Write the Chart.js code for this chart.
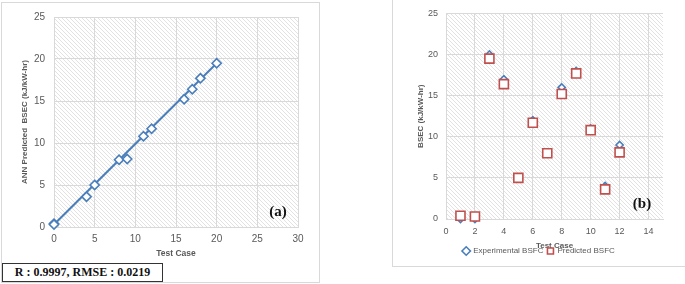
<!DOCTYPE html>
<html>
<head>
<meta charset="utf-8">
<script src="https://cdn.jsdelivr.net/npm/chart.js@4"></script>
<style>
  html, body { margin: 0; padding: 0; background: #fff; }
  body { width: 685px; height: 284px; position: relative; overflow: hidden; }
  .frame { position: absolute; border: 1px solid #d9d9d9; box-sizing: border-box; }
  #wrapA { position: absolute; left: 0; top: 0; width: 320px; height: 262px; }
  #wrapB { position: absolute; left: 393px; top: 0; width: 292px; height: 266px; }
  #stats {
    position: absolute; left: 2px; top: 263px; width: 161px; height: 19px;
    border: 1.5px solid #333; box-sizing: border-box; background: #fff;
    font: bold 12px "Liberation Serif", serif; color: #111;
    line-height: 16px; text-align: center;
  }
</style>
</head>
<body>
<div class="frame" style="left:1px;top:2px;width:319px;height:281px;"></div>
<div class="frame" style="left:392px;top:-1px;width:296px;height:268px;"></div>
<div id="wrapA"><canvas id="ch_a"></canvas></div>
<div id="wrapB"><canvas id="ch_b"></canvas></div>
<div id="stats">R : 0.9997, RMSE : 0.0219</div>

<script>
// data
const testCase     = [1, 2, 3, 4, 5, 6, 7, 8, 9, 10, 11, 12];
const experimental = [0, 0, 20, 17, 5, 12, 8, 16, 18, 11, 4, 9];
const predicted    = [0.4, 0.3, 19.5, 16.4, 5, 11.7, 8, 15.2, 17.7, 10.8, 3.6, 8.1];
const fitX = [0, 20];
const fitY = [0.3, 19.5];
const xTicksB = [0, 2, 4, 6, 8, 10, 12, 14];

const BLUE = '#4a7ebb', RED = '#c0504d', GRID = '#d9d9d9', TXT = '#595959';
const SANS = '"Liberation Sans", Arial, sans-serif';

function makeHatch(ctx) {
  const p = document.createElement('canvas');
  p.width = 4; p.height = 4;
  const c = p.getContext('2d');
  c.fillStyle = '#ffffff'; c.fillRect(0, 0, 4, 4);
  c.strokeStyle = '#e2e2e2'; c.lineWidth = 1;
  c.beginPath();
  c.moveTo(0, 0); c.lineTo(4, 4);
  c.moveTo(-1, 3); c.lineTo(1, 5);
  c.moveTo(3, -1); c.lineTo(5, 1);
  c.stroke();
  return ctx.createPattern(p, 'repeat');
}

const hatchPlugin = {
  id: 'hatch',
  beforeDraw(chart) {
    const { ctx, chartArea: a } = chart;
    ctx.save();
    ctx.fillStyle = makeHatch(ctx);
    ctx.fillRect(a.left, a.top, a.right - a.left, a.bottom - a.top);
    ctx.restore();
  }
};

const tagPlugin = {
  id: 'tag',
  afterDraw(chart, args, opts) {
    const { ctx, chartArea: a } = chart;
    ctx.save();
    ctx.font = 'bold 15px "Liberation Serif", serif';
    ctx.fillStyle = '#111';
    ctx.textAlign = 'center';
    ctx.textBaseline = 'middle';
    ctx.fillText(opts.text, a.right - opts.dx, a.bottom - opts.dy);
    ctx.restore();
  }
};

/* ── (a) predicted vs experimental ───────────────────────────── */
new Chart(document.getElementById('ch_a'), {
  type: 'scatter',
  data: {
    datasets: [
      {
        label: 'ANN',
        data: experimental.map((v, i) => ({ x: v, y: predicted[i] })),
        pointStyle: 'rectRot',
        pointRadius: 4.6,
        pointBorderWidth: 1.6,
        borderColor: BLUE,
        backgroundColor: '#fff',
        clip: false,
        order: 1
      },
      {
        label: 'Fit',
        type: 'line',
        data: fitX.map((v, i) => ({ x: v, y: fitY[i] })),
        borderColor: BLUE,
        borderWidth: 2,
        pointRadius: 0,
        fill: false,
        order: 2
      }
    ]
  },
  options: {
    responsive: true,
    maintainAspectRatio: false,
    animation: false,
    events: [],
    layout: { padding: { left: 0, right: 22, top: 17, bottom: 0 } },
    plugins: {
      legend: { display: false },
      tooltip: { enabled: false },
      tag: { text: '(a)', dx: 20, dy: 15 }
    },
    scales: {
      x: {
        type: 'linear', min: 0, max: 30,
        afterFit: s => { s.height = 35; },
        grid: { color: GRID, drawTicks: false },
        border: { color: GRID },
        ticks: { stepSize: 5, padding: 6, color: TXT, font: { family: SANS, size: 10 } },
        title: { display: true, text: 'Test Case', color: TXT,
                 font: { family: SANS, size: 8.5, weight: 'bold' }, padding: { top: 0, bottom: 3 } }
      },
      y: {
        type: 'linear', min: 0, max: 25,
        afterFit: s => { s.width = 54; },
        grid: { color: GRID, drawTicks: false },
        border: { color: GRID },
        ticks: { stepSize: 5, padding: 9, color: TXT, font: { family: SANS, size: 10 } },
        title: { display: true, text: 'ANN Predicted  BSEC (kJ/kW-hr)', color: TXT,
                 font: { family: SANS, size: 8, weight: 'bold' }, padding: { top: 20, bottom: 0 } }
      }
    }
  },
  plugins: [hatchPlugin, tagPlugin]
});

/* ── (b) experimental vs predicted per test case ─────────────── */
new Chart(document.getElementById('ch_b'), {
  type: 'scatter',
  data: {
    datasets: [
      {
        label: 'Experimental BSFC',
        data: testCase.map((t, i) => ({ x: t, y: experimental[i] })),
        pointStyle: 'rectRot',
        pointRadius: 3.6,
        pointBorderWidth: 1.6,
        borderColor: BLUE,
        backgroundColor: '#fff',
        clip: false,
        order: 2
      },
      {
        label: 'Predicted BSFC',
        data: testCase.map((t, i) => ({ x: t, y: predicted[i] })),
        pointStyle: 'rect',
        pointRadius: 6.4,
        pointBorderWidth: 1.6,
        borderColor: RED,
        backgroundColor: '#fff',
        clip: false,
        order: 1
      }
    ]
  },
  options: {
    responsive: true,
    maintainAspectRatio: false,
    animation: false,
    events: [],
    layout: { padding: { left: 0, right: 0, top: 12, bottom: 1 } },
    plugins: {
      legend: {
        position: 'bottom',
        labels: { usePointStyle: true, boxWidth: 6, boxHeight: 6, padding: 4,
                  sort: (a, b) => a.datasetIndex - b.datasetIndex,
                  color: TXT, font: { family: SANS, size: 8 } }
      },
      tooltip: { enabled: false },
      tag: { text: '(b)', dx: 21, dy: 15 }
    },
    scales: {
      x: {
        type: 'linear', min: 0, max: 15,
        afterFit: s => { s.height = 24; },
        afterBuildTicks: s => { s.ticks = xTicksB.map(v => ({ value: v })); },
        grid: { color: GRID, drawTicks: false },
        border: { color: GRID },
        ticks: { padding: 7, color: TXT, font: { family: SANS, size: 9 } },
        title: { display: true, text: 'Test Case', color: TXT,
                 font: { family: SANS, size: 8, weight: 'bold' }, padding: { top: 0, bottom: -8 } }
      },
      y: {
        type: 'linear', min: 0, max: 25,
        afterFit: s => { s.width = 53; },
        grid: { color: GRID, drawTicks: false },
        border: { color: GRID },
        ticks: { stepSize: 5, padding: 8, color: TXT, font: { family: SANS, size: 9 } },
        title: { display: true, text: 'BSEC (kJ/kW-hr)', color: TXT,
                 font: { family: SANS, size: 8, weight: 'bold' }, padding: { top: 23, bottom: 0 } }
      },
      // empty right-hand spacer so the legend stays centred on the whole panel
      yR: {
        type: 'linear', position: 'right', min: 0, max: 25,
        afterFit: s => { s.width = 22; },
        grid: { display: false },
        border: { display: false },
        ticks: { display: false }
      }
    }
  },
  plugins: [hatchPlugin, tagPlugin]
});
</script>
</body>
</html>
